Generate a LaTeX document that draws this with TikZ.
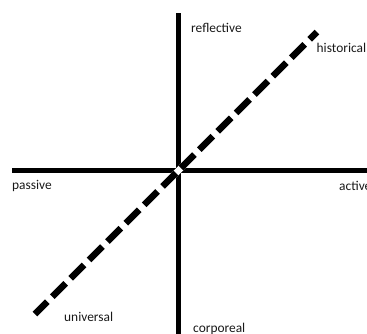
\documentclass[tikz,border=0pt]{standalone}
\usepackage{fontspec}
\setmainfont{Carlito}
\usetikzlibrary{positioning}
\begin{document}
\begin{tikzpicture}[x=1pt, y=-1pt,
  axisline/.style={line width=5.5pt, black},
  diaggap/.style={line width=6.5pt, white},
  diagline/.style={line width=6.5pt, black, dash pattern=on 19pt off 7pt, dash phase=1.6pt},
  axislabel/.style={anchor=base west, inner sep=0pt, font=\fontsize{13.4}{16}\selectfont, text=black!90}
]
  \useasboundingbox (0,0) rectangle (367,333);
  % axes
  \coordinate (top) at (178.5,13);
  \coordinate (bottom) at (178.5,340);
  \coordinate (left) at (12,170.5);
  \coordinate (right) at (372,170.5);
  \draw[axisline] (top) -- (bottom);
  \draw[axisline] (left) -- (right);
  % diagonal
  \coordinate (low) at (35,314);
  \coordinate (high) at (317,32);
  \draw[diaggap] (low) -- (high);
  \draw[diagline] (low) -- (high);
  % labels
  \node[axislabel] (reflective) at (191,32) {reflective};
  \node[axislabel] (historical) at (316.5,52) {historical};
  \node[axislabel] (passive) at (12,189) {passive};
  \node[axislabel] (active) at (339,190) {active};
  \node[axislabel] (universal) at (64,321) {universal};
  \node[axislabel] (corporeal) at (193,332) {corporeal};
\end{tikzpicture}
\end{document}
